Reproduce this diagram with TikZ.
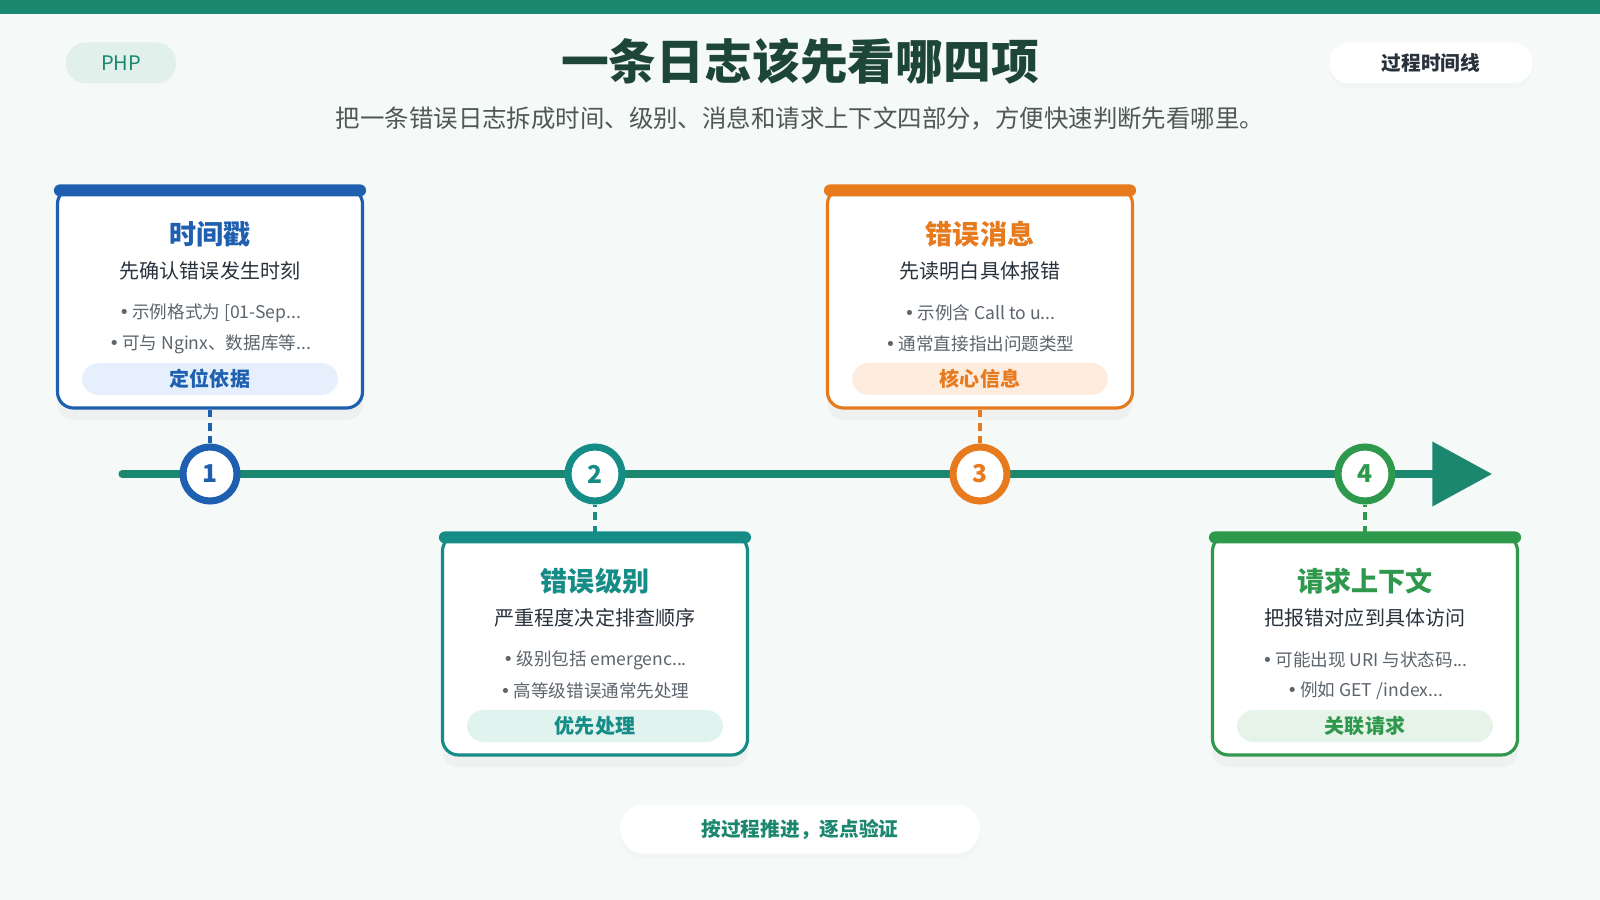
\documentclass[tikz,border=0pt]{standalone}
\usepackage{fontspec}
\setmainfont{Noto Sans CJK SC}
\newfontfamily\dotfont{DejaVu Sans}
\usetikzlibrary{positioning,arrows.meta,shadows}
\definecolor{bgc}{RGB}{245,249,247}
\definecolor{mainc}{RGB}{26,135,110}
\definecolor{headc}{RGB}{30,70,56}
\definecolor{subc}{RGB}{78,88,86}
\definecolor{inkc}{RGB}{40,50,60}
\definecolor{itemc}{RGB}{92,100,108}
\definecolor{cblue}{RGB}{30,95,175}
\definecolor{cteal}{RGB}{22,140,135}
\definecolor{corange}{RGB}{232,122,30}
\definecolor{cgreen}{RGB}{46,152,76}
\definecolor{cblueL}{RGB}{230,240,252}
\definecolor{ctealL}{RGB}{224,243,239}
\definecolor{corangeL}{RGB}{254,237,222}
\definecolor{cgreenL}{RGB}{230,243,233}
\definecolor{phpL}{RGB}{226,240,236}
\newcommand{\bul}{{\dotfont •}\,}

\begin{document}
\begin{tikzpicture}[x=0.1mm,y=-0.1mm,>={Triangle[length=17pt,width=18pt]},
  card/.style={draw=#1,line width=0.9pt,fill=white,rounded corners=1.6mm,minimum width=30.5mm,minimum height=22mm,drop shadow={opacity=0.06,shadow xshift=0mm,shadow yshift=-1.2mm}},
  ttl/.style={text=#1,font=\fontsize{7.7}{9}\selectfont\bfseries},
  sub/.style={text=inkc,font=\fontsize{5.7}{7}\selectfont},
  item/.style={text=itemc,font=\fontsize{5}{6}\selectfont},
  badge/.style={fill=#1,rounded corners=1.65mm,minimum width=25.6mm,minimum height=3.2mm,inner sep=0pt},
  btxt/.style={text=#1,font=\fontsize{5.7}{7}\selectfont\bfseries},
  dot/.style={circle,draw=#1,line width=2pt,fill=white,minimum size=5.4mm,inner sep=0pt,text=#1,font=\fontsize{7}{8}\selectfont\bfseries},
  link/.style={draw=#1,line width=1.1pt,dash pattern=on 2.2pt off 1.6pt},
  pill/.style={fill=#1,rounded corners=2mm,minimum height=4.1mm,inner sep=0pt}]

% page
\fill[bgc] (0,0) rectangle (1600,900);
\fill[mainc] (0,0) rectangle (1600,14);

% header
\node[pill=phpL,minimum width=11mm,text=mainc,font=\fontsize{5.7}{7}\selectfont] (php) at (121,63) {PHP};
\node[pill=white,minimum width=20.3mm,text=inkc,font=\fontsize{5.6}{7}\selectfont\bfseries,drop shadow={opacity=0.03,shadow xshift=0mm,shadow yshift=-0.5mm}] (kind) at (1431,63) {过程时间线};
\node[text=headc,font=\fontsize{13.6}{16}\selectfont\bfseries] (title) at (800,61) {一条日志该先看哪四项};
\node[text=subc,font=\fontsize{6.95}{9}\selectfont] (lead) at (800,118) {把一条错误日志拆成时间、级别、消息和请求上下文四部分，方便快速判断先看哪里。};

% timeline
\coordinate (tstart) at (122,474);
\coordinate (tend) at (1492,474);
\draw[mainc,line width=2pt,line cap=round,->] (tstart) -- (tend);

% cards
\node[card=cblue] (card1) at (210,298) {};
\fill[cblue,rounded corners=0.6mm] ([shift={(-2,-2)}]card1.north west) rectangle ([shift={(2,10)}]card1.north east);
\node[ttl=cblue] (t1) at (210,234) {时间戳};
\node[sub] (s1) at (210,271) {先确认错误发生时刻};
\node[item] (b1a) at (210,313) {\bul 示例格式为 [01-Sep...};
\node[item] (b1b) at (210,344) {\bul 可与 Nginx、数据库等...};
\node[badge=cblueL] (g1) at (210,379) {};
\node[btxt=cblue] at (g1) {定位依据};

\node[card=cteal] (card2) at (595,645) {};
\fill[cteal,rounded corners=0.6mm] ([shift={(-2,-2)}]card2.north west) rectangle ([shift={(2,10)}]card2.north east);
\node[ttl=cteal] (t2) at (595,581) {错误级别};
\node[sub] (s2) at (595,618) {严重程度决定排查顺序};
\node[item] (b2a) at (595,660) {\bul 级别包括 emergenc...};
\node[item] (b2b) at (595,691) {\bul 高等级错误通常先处理};
\node[badge=ctealL] (g2) at (595,726) {};
\node[btxt=cteal] at (g2) {优先处理};

\node[card=corange] (card3) at (980,298) {};
\fill[corange,rounded corners=0.6mm] ([shift={(-2,-2)}]card3.north west) rectangle ([shift={(2,10)}]card3.north east);
\node[ttl=corange] (t3) at (980,234) {错误消息};
\node[sub] (s3) at (980,271) {先读明白具体报错};
\node[item] (b3a) at (980,313) {\bul 示例含 Call to u...};
\node[item] (b3b) at (980,344) {\bul 通常直接指出问题类型};
\node[badge=corangeL] (g3) at (980,379) {};
\node[btxt=corange] at (g3) {核心信息};

\node[card=cgreen] (card4) at (1365,645) {};
\fill[cgreen,rounded corners=0.6mm] ([shift={(-2,-2)}]card4.north west) rectangle ([shift={(2,10)}]card4.north east);
\node[ttl=cgreen] (t4) at (1365,581) {请求上下文};
\node[sub] (s4) at (1365,618) {把报错对应到具体访问};
\node[item] (b4a) at (1365,660) {\bul 可能出现 URI 与状态码...};
\node[item] (b4b) at (1365,691) {\bul 例如 GET /index...};
\node[badge=cgreenL] (g4) at (1365,726) {};
\node[btxt=cgreen] at (g4) {关联请求};

% steps on the line
\node[dot=cblue] (n1) at (210,474) {1};
\node[dot=cteal] (n2) at (595,474) {2};
\node[dot=corange] (n3) at (980,474) {3};
\node[dot=cgreen] (n4) at (1365,474) {4};
\draw[link=cblue] (card1) -- (n1);
\draw[link=cteal] (card2) -- (n2);
\draw[link=corange] (card3) -- (n3);
\draw[link=cgreen] (card4) -- (n4);

% footer
\node[pill=white,minimum width=36mm,minimum height=4.9mm,rounded corners=2.4mm,text=mainc,font=\fontsize{5.6}{7}\selectfont\bfseries,drop shadow={opacity=0.03,shadow xshift=0mm,shadow yshift=-0.5mm}] (foot) at (800,829) {按过程推进，逐点验证};
\end{tikzpicture}
\end{document}
